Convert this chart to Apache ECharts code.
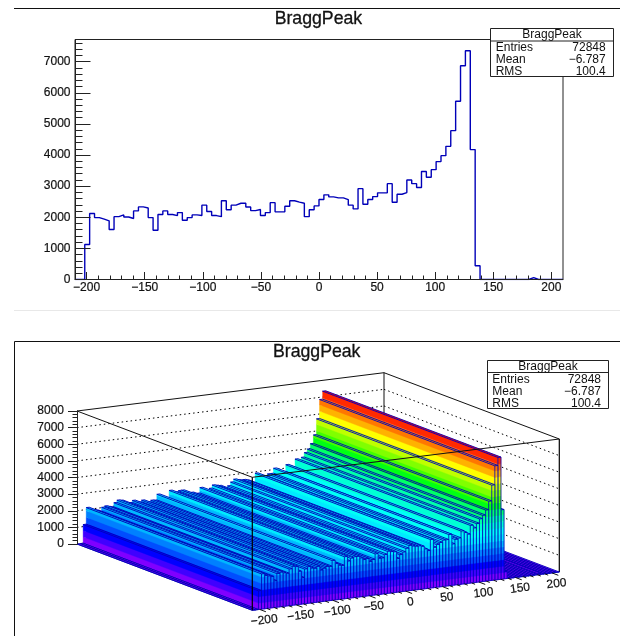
<!DOCTYPE html>
<html>
<head>
<meta charset="utf-8">
<style>
html,body{margin:0;padding:0;background:#fff;overflow:hidden}
#main{width:620px;height:636px;filter:blur(0.45px)}
</style>
<script src="https://cdn.jsdelivr.net/npm/echarts@6/dist/echarts.min.js"></script>
</head>
<body>
<div id="main"></div>
<script>
const histName = 'BraggPeak';
const statNames = ['Entries', 'Mean', 'RMS'];
const statValues = ['72848', '\u22126.787', '100.4'];
const xMin = -210, xMax = 210, binWidth = 4.2;
const counts = [
  0,0,1124,2120,1990,1940,1885,1606,2020,2077,
  2010,1960,2205,2334,2300,1990,1585,2090,2205,2090,
  2055,2150,1905,1990,2077,2055,2390,2185,2055,2020,
  2530,2240,2390,2450,2450,2330,2215,2250,2055,2150,
  2470,2175,2175,2355,2530,2485,2450,2020,2240,2366,
  2570,2720,2655,2623,2623,2570,2390,2270,2920,2420,
  2570,2665,2785,2785,3080,2485,2740,2795,3200,3080,
  2955,3470,3285,3530,3790,3980,4280,4785,5730,6870,
  7350,4175,440,0,0,0,0,0,0,0,
  0,0,0,60,0,0,0,0,0,0
];
const xTicks = [-200,-150,-100,-50,0,50,100,150,200];
const xMinorTicks = [-190,-180,-170,-160,-140,-130,-120,-110,-90,-80,-70,-60,-40,-30,-20,-10,10,20,30,40,60,70,80,90,110,120,130,140,160,170,180,190];
const zLevels = [1000,2000,3000,4000,5000,6000,7000];
const yMax2d = 7714, zMax = 8000, paletteMax = 7718;
const bandHues = [270,255,240,222,210,197,185,178,170,160,145,125,105,90,75,60,42,28,10,0];

const LINE = '#0000b8', FONT = '"Liberation Sans", Arial, sans-serif';
const DEPTH_X = 175.3, DEPTH_Y = 66.3, SLOPE = -38.3 / 307;
const fmt = v => String(v).replace('-', '\u2212');
const bandColor = i => 'hsl(' + bandHues[i] + ',100%,50%)';
const bandCount = bandHues.length;
const bandH = paletteMax / bandCount;

const edges = counts.map((_, k) => xMin + k * binWidth);
const stepData = counts.map((c, k) => [edges[k], c]).concat([[xMax, 0]]);
const barData = counts.map((c, k) => [edges[k], edges[k] + binWidth, c]).reverse();

function proj(api, params, x, d, z) {
  const c = api.coord([x, z]);
  return [c[0] + (1 - d) * DEPTH_X, c[1] + (1 - d) * DEPTH_Y + (c[0] - params.coordSys.x) * SLOPE];
}
const poly = (points, fill, stroke, lw) => ({
  type: 'polygon', shape: { points },
  style: { fill, stroke: stroke || fill, lineWidth: lw == null ? 0.4 : lw }
});
const seg = (a, b, stroke, lw, dash) => ({
  type: 'line', shape: { x1: a[0], y1: a[1], x2: b[0], y2: b[1] },
  style: { stroke, lineWidth: lw, lineDash: dash || null }
});

function renderBar(params, api) {
  const x0 = api.value(0), x1 = api.value(1), v = api.value(2);
  const ch = [];
  const P = (x, d, z) => proj(api, params, x, d, z);
  for (let b = 0; b * bandH < v; b++) {
    const lo = b * bandH, hi = Math.min((b + 1) * bandH, v), col = bandColor(b);
    ch.push(poly([P(x0, 0, lo), P(x0, 1, lo), P(x0, 1, hi), P(x0, 0, hi)], col));
    ch.push(poly([P(x0, 0, lo), P(x1, 0, lo), P(x1, 0, hi), P(x0, 0, hi)], col));
  }
  const topBand = Math.min(Math.floor(v / bandH), bandCount - 1);
  ch.push(poly([P(x0, 0, v), P(x1, 0, v), P(x1, 1, v), P(x0, 1, v)], bandColor(topBand), LINE, 0.9));
  ch.push(seg(P(x0, 0, 0), P(x0, 0, v), LINE, 0.8));
  ch.push(seg(P(x1, 0, 0), P(x1, 0, v), LINE, 0.8));
  ch.push(seg(P(x0, 0, 0), P(x1, 0, 0), LINE, 0.8));
  ch.push(seg(P(x0, 0, 0), P(x0, 1, 0), LINE, 0.8));
  return { type: 'group', children: ch };
}
function renderWalls(params, api) {
  const z = api.value(1);
  const P = (x, d) => proj(api, params, x, d, z);
  return { type: 'group', children: [
    seg(P(xMin, 1), P(xMax, 1), '#000', 1, [1.5, 3]),
    seg(P(xMax, 1), P(xMax, 0), '#000', 1, [1.5, 3])
  ]};
}
function renderBackFrame(params, api) {
  const P = (x, d, z) => proj(api, params, x, d, z);
  return { type: 'group', children: [
    seg(P(xMin, 1, zMax), P(xMax, 1, zMax), '#111', 1),
    seg(P(xMax, 1, zMax), P(xMax, 0, zMax), '#111', 1),
    seg(P(xMax, 1, 0), P(xMax, 1, zMax), '#111', 1),
    seg(P(xMax, 0, 0), P(xMax, 0, zMax), '#000', 1.2),
    seg(P(xMin, 1, 0), P(xMax, 1, 0), '#000', 1, [1.5, 3])
  ]};
}
function renderFrontFrame(params, api) {
  const P = (x, d, z) => proj(api, params, x, d, z);
  return { type: 'group', children: [
    seg(P(xMin, 1, zMax), P(xMin, 0, zMax), '#111', 1),
    seg(P(xMin, 0, zMax), P(xMax, 0, zMax), '#111', 1),
    seg(P(xMin, 0, 0), P(xMin, 0, zMax), '#000', 1.2)
  ]};
}
function renderTick(params, api) {
  const x = api.value(0), major = api.value(2);
  const a = proj(api, params, x, 0, 0);
  const L = major ? 0.036 : 0.02;
  const b = [a[0] + L * DEPTH_X, a[1] + L * DEPTH_Y];
  return seg(a, b, '#111', 1);
}
function renderTickLabel(params, api) {
  const x = api.value(0);
  const a = proj(api, params, x, 0, 0);
  return {
    type: 'text', x: a[0] + 4.6, y: a[1] + 10.9, rotation: 0.124,
    style: { text: fmt(x), font: '12px ' + FONT, fill: '#111', stroke: '#111', lineWidth: 0.2, align: 'center', verticalAlign: 'middle' }
  };
}

function statBox(left, top, w, h, headH, firstRow, textL, textR) {
  const out = [
    { type: 'rect', z: 20, shape: { x: left, y: top, width: w, height: h },
      style: { fill: '#fff', stroke: '#222', lineWidth: 1 } },
    { type: 'line', z: 21, shape: { x1: left, y1: top + headH, x2: left + w, y2: top + headH },
      style: { stroke: '#222', lineWidth: 1 } },
    { type: 'text', z: 21, x: left + w / 2, y: top + headH / 2 + 0.3,
      style: { text: histName, font: '12px ' + FONT, fill: '#111', align: 'center', verticalAlign: 'middle' } }
  ];
  statNames.forEach((n, i) => {
    const y = firstRow + i * 12;
    out.push({ type: 'text', z: 21, x: textL, y,
      style: { text: n, font: '12px ' + FONT, fill: '#111', align: 'left', verticalAlign: 'middle' } });
    out.push({ type: 'text', z: 21, x: textR, y,
      style: { text: statValues[i], font: '12px ' + FONT, fill: '#111', align: 'right', verticalAlign: 'middle' } });
  });
  return out;
}
const rule = (x1, y1, x2, y2, stroke) => ({ type: 'line', z: 1, shape: { x1, y1, x2, y2 }, style: { stroke, lineWidth: 1 } });

const titleStyle = { fontFamily: FONT, fontSize: 17.7, fontWeight: 'normal', color: '#111', textBorderColor: '#111', textBorderWidth: 0.3 };
const tickText = { fontFamily: FONT, fontSize: 12, color: '#111', textBorderColor: '#111', textBorderWidth: 0.2 };
const option = {
  animation: false,
  backgroundColor: '#fff',
  title: [
    { text: histName, left: 318.4, top: 10, textAlign: 'center', padding: 0, textStyle: titleStyle },
    { text: histName, left: 316.7, top: 343, textAlign: 'center', padding: 0, textStyle: titleStyle }
  ],
  grid: [
    { left: 75, top: 39.5, width: 488, height: 240, show: true, borderColor: '#222', borderWidth: 1, backgroundColor: 'transparent' },
    { left: 77, top: 411, width: 307, height: 133 }
  ],
  xAxis: [
    { type: 'value', gridIndex: 0, min: xMin, max: xMax, z: 5,
      axisLine: { lineStyle: { color: '#222' } },
      axisTick: { inside: true, length: 7.5, lineStyle: { color: '#222' }, customValues: xTicks },
      axisLabel: Object.assign({ customValues: xTicks, margin: 2, formatter: fmt }, tickText),
      minorTick: { show: false }, splitLine: { show: false } },
    { type: 'value', gridIndex: 1, min: xMin, max: xMax, show: false },
    { type: 'value', gridIndex: 0, min: xMin, max: xMax, z: 5, position: 'bottom',
      axisLine: { show: false },
      axisTick: { inside: true, length: 4, lineStyle: { color: '#222' }, customValues: xMinorTicks },
      axisLabel: { show: false }, splitLine: { show: false } }
  ],
  yAxis: [
    { type: 'value', gridIndex: 0, min: 0, max: yMax2d, interval: 1000, z: 5, position: 'left',
      axisLine: { show: true, onZero: false, lineStyle: { color: '#222' } },
      axisTick: { show: true, inside: true, length: 15.5, lineStyle: { color: '#222' } },
      minorTick: { show: true, splitNumber: 5, length: 7.5, lineStyle: { color: '#222' } },
      axisLabel: Object.assign({ margin: 4.5, showMaxLabel: false, formatter: v => String(v) }, tickText),
      splitLine: { show: false }, minorSplitLine: { show: false } },
    { type: 'value', gridIndex: 1, min: 0, max: zMax, interval: 1000, z: 5, position: 'left',
      axisLine: { show: true, onZero: false, lineStyle: { color: '#222' } },
      axisTick: { show: true, length: 9, lineStyle: { color: '#222' } },
      minorTick: { show: true, splitNumber: 5, length: 4.5, lineStyle: { color: '#222' } },
      axisLabel: Object.assign({ margin: 13, formatter: v => String(v) }, tickText),
      splitLine: { show: false }, minorSplitLine: { show: false } }
  ],
  series: [
    { type: 'line', xAxisIndex: 0, yAxisIndex: 0, step: 'end', data: stepData, symbol: 'none', z: 2,
      lineStyle: { color: LINE, width: 1.4 } },
    { type: 'custom', xAxisIndex: 1, yAxisIndex: 1, clip: false, silent: true, z: 1,
      data: zLevels.map(z => [xMin, z]), encode: { x: 0, y: 1 }, renderItem: renderWalls },
    { type: 'custom', xAxisIndex: 1, yAxisIndex: 1, clip: false, silent: true, z: 1,
      data: [[xMin, 0]], encode: { x: 0, y: 1 }, renderItem: renderBackFrame },
    { type: 'custom', xAxisIndex: 1, yAxisIndex: 1, clip: false, silent: true, z: 2, progressive: 0,
      data: barData, encode: { x: [0, 1], y: 2 }, renderItem: renderBar },
    { type: 'custom', xAxisIndex: 1, yAxisIndex: 1, clip: false, silent: true, z: 3,
      data: [[xMin, 0]], encode: { x: 0, y: 1 }, renderItem: renderFrontFrame },
    { type: 'custom', xAxisIndex: 1, yAxisIndex: 1, clip: false, silent: true, z: 3,
      data: xTicks.map(x => [x, 0, 1]).concat(xMinorTicks.map(x => [x, 0, 0])), encode: { x: 0, y: 1 }, renderItem: renderTick },
    { type: 'custom', xAxisIndex: 1, yAxisIndex: 1, clip: false, silent: true, z: 3,
      data: xTicks.map(x => [x, 0]), encode: { x: 0, y: 1 }, renderItem: renderTickLabel }
  ],
  graphic: [
    rule(14, 8.5, 620, 8.5, '#111'),
    rule(14, 310.5, 620, 310.5, '#e8e8e8'),
    rule(14.5, 341.5, 620, 341.5, '#111'),
    rule(14.5, 341.5, 14.5, 636, '#111')
  ].concat(statBox(490.5, 28.5, 123, 48, 12.5, 47.3, 495.7, 605.7))
   .concat(statBox(487.5, 360.5, 121, 48, 12, 380, 492.3, 601))
};
const chart = echarts.init(document.getElementById('main'), null, { renderer: 'canvas' });
chart.setOption(option);
</script>
</body>
</html>
